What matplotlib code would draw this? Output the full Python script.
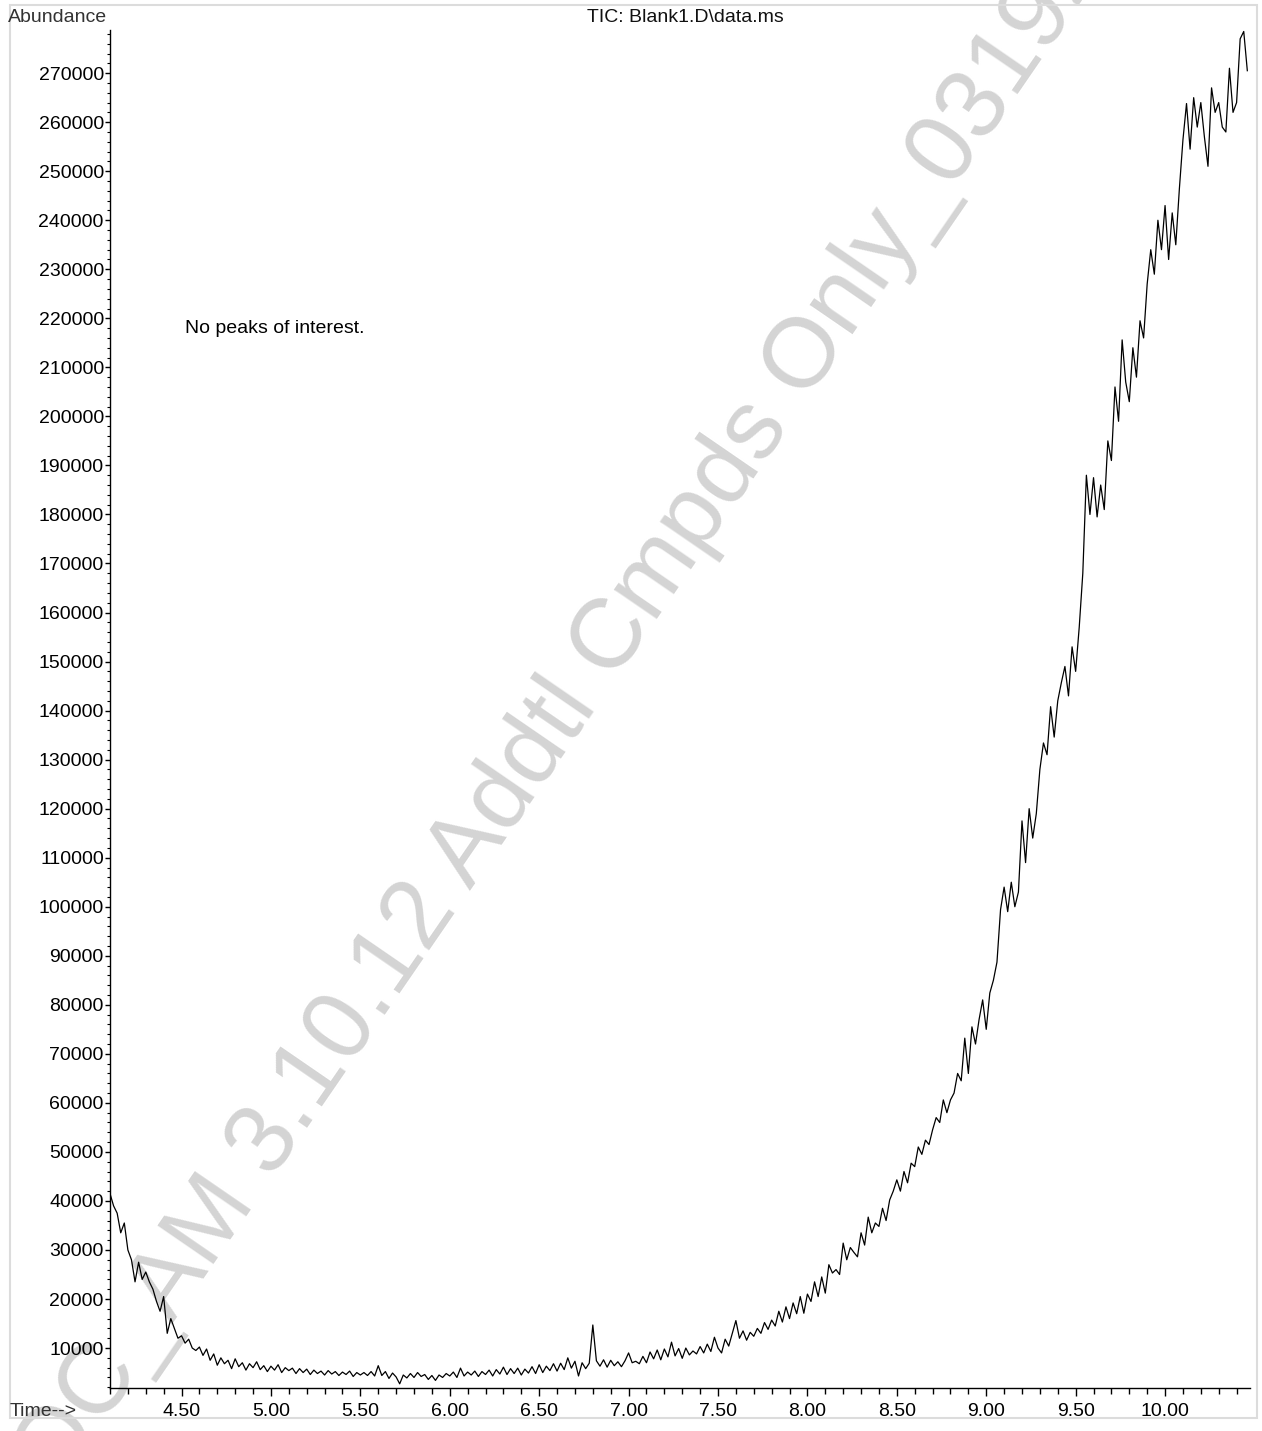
import matplotlib as mpl
mpl.use('Agg')
import matplotlib.pyplot as plt
from matplotlib.ticker import MultipleLocator, FormatStrFormatter
from matplotlib.patches import Rectangle
import numpy as np

plt.rcParams['font.family'] = ['Liberation Sans', 'DejaVu Sans']

# retention time grid (min) and TIC abundance, in thousands
t_start = 4.10
t_step = 0.02
abund_k = [
    41.5, 39.0, 37.5, 33.5, 35.5, 30.0, 28.0, 23.5, 27.5, 24.0,   # 4.10
    25.5, 23.5, 22.0, 19.5, 17.5, 20.5, 13.0, 16.0, 14.0, 12.0,   # 4.30
    12.5, 11.0, 11.8, 10.0, 9.5, 10.2, 8.5, 9.8, 7.5, 8.8,        # 4.50
    6.5, 8.0, 6.8, 7.5, 5.8, 7.8, 6.2, 7.0, 5.5, 6.8,             # 4.70
    6.0, 7.2, 5.6, 6.4, 5.2, 6.3, 5.5, 6.6, 5.0, 6.0,             # 4.90
    5.4, 5.9, 4.8, 5.8, 5.0, 5.7, 4.6, 5.5, 4.8, 5.3,             # 5.10
    4.5, 5.4, 4.7, 5.2, 4.4, 5.1, 4.6, 5.3, 4.2, 5.0,             # 5.30
    4.5, 5.0, 4.4, 5.2, 4.3, 6.4, 4.4, 5.2, 3.8, 4.9,             # 5.50
    4.1, 2.7, 4.5, 3.9, 4.8, 4.0, 5.0, 4.2, 4.6, 3.6,             # 5.70
    4.4, 3.4, 4.5, 4.0, 4.8, 4.3, 5.1, 4.0, 5.9, 4.3,             # 5.90
    5.1, 4.5, 5.3, 4.2, 5.2, 4.6, 5.5, 4.3, 5.6, 4.7,             # 6.10
    6.1, 4.6, 5.8, 4.8, 5.9, 4.5, 5.7, 4.9, 6.2, 4.8,             # 6.30
    6.6, 5.0, 6.3, 5.4, 6.8, 5.3, 6.9, 5.6, 8.0, 5.9,             # 6.50
    7.3, 4.3, 7.0, 5.8, 6.9, 14.7, 7.4, 6.3, 7.6, 6.1,            # 6.70
    7.5, 6.4, 7.2, 6.2, 7.4, 9.0, 7.0, 7.3, 6.8, 8.3,             # 6.90
    7.0, 9.2, 7.8, 9.6, 7.6, 9.8, 8.2, 11.2, 8.4, 9.9,            # 7.10
    7.9, 10.0, 8.6, 9.4, 8.8, 10.3, 9.0, 10.8, 9.3, 12.2,         # 7.30
    10.0, 9.0, 11.8, 10.4, 13.0, 15.6, 12.0, 13.5, 11.6, 13.2,    # 7.50
    12.4, 14.0, 13.0, 15.2, 13.8, 15.7, 14.5, 17.5, 15.3, 18.4,   # 7.70
    16.0, 19.2, 17.0, 20.5, 17.1, 21.0, 19.5, 23.5, 20.5, 24.5,   # 7.90
    21.2, 27.0, 25.3, 26.0, 25.0, 31.4, 28.0, 30.5, 29.5, 28.6,   # 8.10
    33.5, 31.0, 36.7, 33.5, 35.5, 34.8, 38.5, 36.0, 40.2, 42.0,   # 8.30
    44.3, 42.0, 46.0, 43.7, 47.7, 47.0, 51.0, 49.5, 52.4, 51.5,   # 8.50
    54.5, 57.0, 56.0, 60.6, 58.0, 60.6, 62.0, 66.0, 64.5, 73.2,   # 8.70
    66.0, 75.5, 72.0, 77.0, 81.0, 75.0, 82.4, 85.0, 88.7, 99.4,   # 8.90
    104.0, 99.0, 105.0, 100.0, 103.0, 117.5, 109.0, 120.0, 114.0, 119.0,  # 9.10
    128.0, 133.4, 131.0, 140.8, 134.6, 142.0, 145.7, 149.0, 143.0, 153.0,  # 9.30
    148.0, 157.0, 168.0, 188.0, 180.0, 187.5, 179.5, 186.0, 181.0, 195.0,  # 9.50
    191.0, 206.0, 199.0, 215.6, 207.0, 203.0, 214.0, 208.0, 219.5, 216.0,  # 9.70
    227.0, 234.0, 229.0, 240.0, 234.0, 243.0, 232.0, 241.5, 235.0, 246.4,  # 9.90
    256.4, 263.8, 254.5, 265.0, 259.0, 264.0, 257.0, 251.0, 267.0, 262.0,  # 10.10
    264.0, 259.0, 258.0, 271.0, 262.0, 264.0, 277.0, 278.5, 270.5,         # 10.30
]

time_min = t_start + t_step * np.arange(len(abund_k))
abundance = np.array(abund_k) * 1000

title_txt = 'TIC: Blank1.D\\data.ms'
note_txt = 'No peaks of interest.'
watermark_txt = 'QC_AM 3.10.12 Addtl Cmpds Only_03192023'

W, H = 1262, 1431
fig = plt.figure(figsize=(W / 100, H / 100), dpi=100)
ax = fig.add_axes([110 / W, 1 - 1388 / H, (1250 - 110) / W, (1388 - 30) / H])
ax.set_zorder(1)
ax.patch.set_alpha(0)

# light frame round the page
fig.patches.append(Rectangle((10 / W, 1 - 1418 / H), 1247 / W, 1413 / H,
                             transform=fig.transFigure, fill=False,
                             edgecolor='#dcdcdc', lw=1.5))

# watermark behind the trace
fig.text(58 / W, 1 - 1492 / H, watermark_txt, rotation=55.5, rotation_mode='anchor',
         ha='left', va='baseline', fontsize=71, color='#d4d4d4', zorder=0)

ax.plot(time_min, abundance, color='black', lw=0.9)

ax.set_xlim(4.10, 10.475)
ax.set_ylim(1850, 278800)

for s in ['top', 'right']:
    ax.spines[s].set_visible(False)
for s in ['left', 'bottom']:
    ax.spines[s].set_linewidth(1.0)

ax.xaxis.set_major_locator(MultipleLocator(0.5))
ax.xaxis.set_minor_locator(MultipleLocator(0.1))
ax.xaxis.set_major_formatter(FormatStrFormatter('%.2f'))
ax.yaxis.set_major_locator(MultipleLocator(10000))
ax.yaxis.set_minor_locator(MultipleLocator(2000))
ax.yaxis.set_major_formatter(FormatStrFormatter('%d'))

ax.tick_params(axis='x', which='major', length=6, width=1, labelsize=14, pad=5)
ax.tick_params(axis='x', which='minor', length=4, width=1)
ax.tick_params(axis='y', which='major', length=3.5, width=1, labelsize=14, pad=1)
ax.tick_params(axis='y', which='minor', length=2, width=0.8)

ax.text(4.522, 218000, note_txt, fontsize=14, va='center', ha='left')

fig.text(8 / W, 1 - 17 / H, 'Abundance', fontsize=14, color='#333333', va='center', ha='left')
fig.text(10 / W, 1 - 1411 / H, 'Time-->', fontsize=14, color='#333333', va='center', ha='left')
fig.text(685 / W, 1 - 17 / H, title_txt, fontsize=14, color='#111111', va='center', ha='center')

plt.savefig('out.png', dpi=100)
